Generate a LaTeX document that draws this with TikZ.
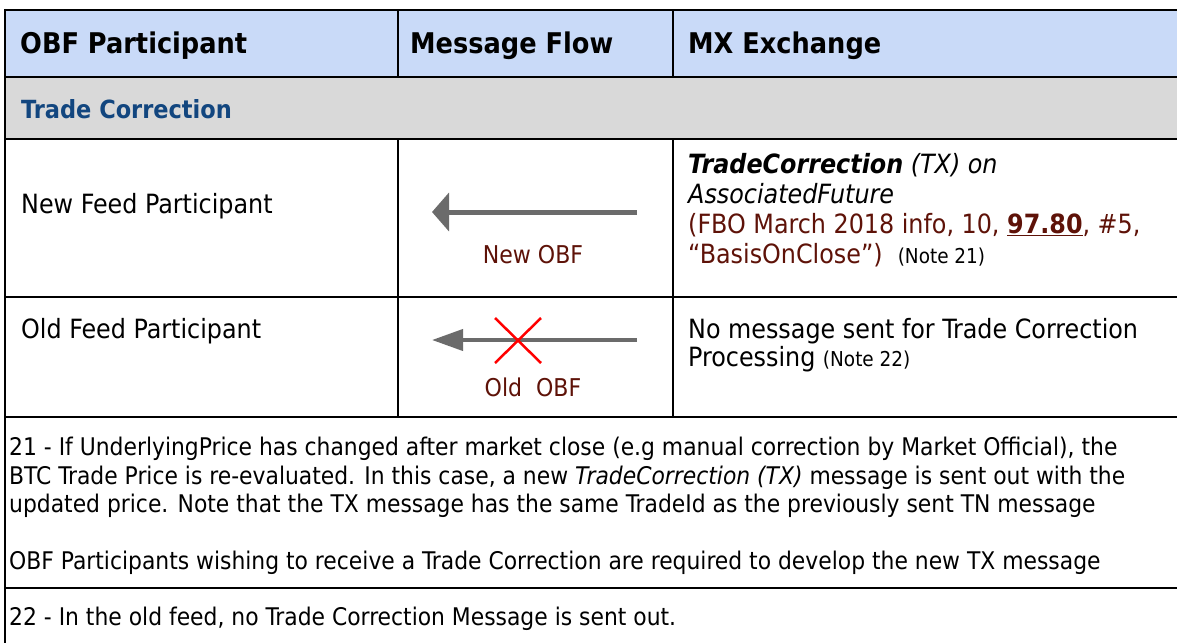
\documentclass[tikz,border=0pt]{standalone}
\usepackage{fontspec}
\setmainfont{DejaVu Sans Condensed}
\usetikzlibrary{arrows.meta}

\definecolor{hdrblue}{HTML}{C9DAF8}
\definecolor{rowgray}{HTML}{D9D9D9}
\definecolor{obfbrown}{HTML}{5E1208}
\definecolor{secblue}{HTML}{12467F}
\definecolor{flowgray}{HTML}{6B6B6B}

\tikzstyle{cell} = [anchor=base west, inner sep=0pt, align=left, font=\fontsize{26.5}{30}\selectfont]
\tikzstyle{head} = [anchor=base west, inner sep=0pt, font=\fontsize{28.5}{32}\selectfont\bfseries]
\tikzstyle{note} = [anchor=base west, inner sep=0pt, align=left, font=\fontsize{24.3}{28.3}\selectfont]
\tikzstyle{obf} = [anchor=base, inner sep=0pt, text=obfbrown, font=\fontsize{24.5}{28}\selectfont]
\tikzstyle{newflow} = [draw=flowgray, fill=flowgray, line width=5pt, -{Triangle[length=17pt,width=38pt]}]
\tikzstyle{oldflow} = [draw=flowgray, fill=flowgray, line width=4pt, -{Triangle[length=31pt,width=21pt]}]
\tikzstyle{cross} = [red, line width=2.5pt]
\tikzstyle{rule} = [black, line width=2.6pt]
\newcommand{\notesize}[1]{{\fontsize{20.5}{24}\selectfont #1}}

\begin{document}
\begin{tikzpicture}[x=1pt,y=-1pt]
      \useasboundingbox (0,0) rectangle (1177,642);

      \fill[hdrblue] (5,10) rectangle (1180,77);
      \fill[rowgray] (5,77) rectangle (1180,139);
      \foreach \y in {10,77,139,297,417,588}
        \draw[rule] (5,\y) -- (1180,\y);
      \draw[rule] (5,9) -- (5,645);
      \draw[rule] (398,10) -- (398,77);
      \draw[rule] (673,10) -- (673,77);
      \draw[rule] (398,139) -- (398,417);
      \draw[rule] (673,139) -- (673,417);

      \node[head] (h1) at (20,54) {OBF Participant};
      \node[head] (h2) at (410,54) {Message Flow};
      \node[head] (h3) at (688,54) {MX Exchange};

      \node[head, text=secblue, font=\fontsize{25}{28}\selectfont\bfseries] (sec) at (21,118) {Trade Correction};

      \node[cell] (newp) at (21,213) {New Feed Participant};
      \node[cell] (oldp) at (21,338) {Old Feed Participant};

      \coordinate (newfrom) at (637,212);
      \coordinate (newto) at (432,212);
      \draw[newflow] (newfrom) -- (newto);
      \node[obf] (newobf) at (533,263) {New OBF};

      \coordinate (oldfrom) at (637,340);
      \coordinate (oldto) at (432,340);
      \draw[oldflow] (oldfrom) -- (oldto);
      \coordinate (xa) at (495,318);
      \coordinate (xb) at (541,363);
      \coordinate (xc) at (541,318);
      \coordinate (xd) at (495,363);
      \draw[cross] (xa) -- (xb);
      \draw[cross] (xc) -- (xd);
      \node[obf] (oldobf) at (533,396) {Old\ \ OBF};

      \node[cell] (txmsg) at (688,263) {\textbf{\textit{TradeCorrection}} \textit{(TX) on}\\
        \textit{AssociatedFuture}\\
        \textcolor{obfbrown}{(FBO March 2018 info, 10, \textbf{\underline{97.80}}, \#5,}\\
        \textcolor{obfbrown}{“BasisOnClose”)}\ \ \notesize{(Note 21)}};
      \node[cell, font=\fontsize{26.5}{28}\selectfont] (nomsg) at (688,366) {No message sent for Trade Correction\\
        Processing \notesize{(Note 22)}};

      \node[note] (n21) at (9,569) {21 - If UnderlyingPrice has changed after market close (e.g manual correction by Market Official), the\\
        BTC Trade Price is re-evaluated. In this case, a new \textit{TradeCorrection (TX)} message is sent out with the\\
        updated price. Note that the TX message has the same TradeId as the previously sent TN message\\[28.3pt]
        OBF Participants wishing to receive a Trade Correction are required to develop the new TX message};
      \node[note] (n22) at (9,625) {22 - In the old feed, no Trade Correction Message is sent out.};
    \end{tikzpicture}
\end{document}
